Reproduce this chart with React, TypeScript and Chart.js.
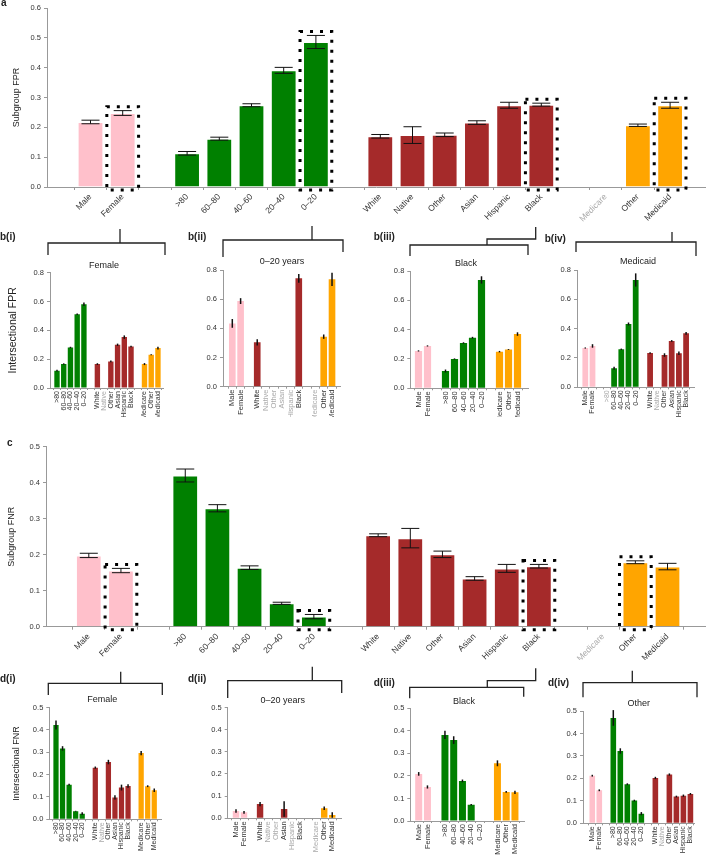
import React, { useEffect, useRef } from 'react';
import { Chart, registerables } from 'chart.js';

Chart.register(...registerables);

// ---------- categories ----------
const SEX = ['Male', 'Female'];
const AGE = ['>80', '60–80', '40–60', '20–40', '0–20'];
const RACE = ['White', 'Native', 'Other', 'Asian', 'Hispanic', 'Black'];
const INSURANCE = ['Medicare', 'Other', 'Medicaid'];

// ---------- panel a: subgroup FPR (sex, age, race, insurance) ----------
const A_FPR = [0.218, 0.248, 0.113, 0.162, 0.274, 0.391, 0.486, 0.17, 0.174, 0.175, 0.216, 0.274, 0.276, null, 0.207, 0.274];
const A_FPR_ERR = [0.006, 0.008, 0.006, 0.005, 0.005, 0.01, 0.022, 0.006, 0.028, 0.006, 0.006, 0.01, 0.005, null, 0.004, 0.01];

// ---------- panel b(i): Female (age, race, insurance) ----------
const B1_FPR = [0.12, 0.166, 0.281, 0.512, 0.581, 0.166, null, 0.184, 0.3, 0.353, 0.288, 0.166, 0.231, 0.277];
const B1_ERR = [0.006, 0.005, 0.005, 0.005, 0.012, 0.006, null, 0.006, 0.008, 0.012, 0.005, 0.007, 0.004, 0.01];
// ---------- panel b(ii): 0–20 years (sex, race, insurance) ----------
const B2_FPR = [0.434, 0.587, 0.304, null, null, null, null, 0.743, null, 0.343, 0.736];
const B2_ERR = [0.03, 0.02, 0.022, null, null, null, null, 0.03, null, 0.015, 0.045];
// ---------- panel b(iii): Black (sex, age, insurance) ----------
const B3_FPR = [0.255, 0.289, 0.118, 0.2, 0.309, 0.345, 0.739, 0.25, 0.265, 0.37];
const B3_ERR = [0.004, 0.004, 0.01, 0.004, 0.005, 0.006, 0.025, 0.005, 0.003, 0.012];
// ---------- panel b(iv): Medicaid (sex, age, race) ----------
const B4_FPR = [0.268, 0.282, null, 0.13, 0.259, 0.432, 0.732, 0.234, null, 0.22, 0.316, 0.232, 0.368];
const B4_ERR = [0.004, 0.012, null, 0.01, 0.005, 0.01, 0.045, 0.005, null, 0.012, 0.006, 0.012, 0.01];

// ---------- panel c: subgroup FNR ----------
const C_FNR = [0.198, 0.156, 0.42, 0.329, 0.164, 0.065, 0.028, 0.254, 0.246, 0.201, 0.134, 0.162, 0.168, null, 0.179, 0.167];
const C_FNR_ERR = [0.006, 0.006, 0.018, 0.01, 0.005, 0.003, 0.006, 0.004, 0.027, 0.009, 0.005, 0.011, 0.005, null, 0.004, 0.009];

// ---------- panel d(i): Female ----------
const D1_FNR = [0.422, 0.317, 0.155, 0.036, 0.025, 0.231, null, 0.256, 0.098, 0.142, 0.149, 0.296, 0.148, 0.13];
const D1_ERR = [0.02, 0.01, 0.004, 0.002, 0.006, 0.005, null, 0.01, 0.01, 0.013, 0.008, 0.01, 0.004, 0.008];
// ---------- panel d(ii): 0–20 years ----------
const D2_FNR = [0.033, 0.027, 0.064, null, null, 0.042, null, 0, null, 0.045, 0.015];
const D2_ERR = [0.008, 0.006, 0.01, null, null, 0.035, null, 0, null, 0.008, 0.012];
// ---------- panel d(iii): Black ----------
const D3_FNR = [0.209, 0.151, 0.382, 0.359, 0.178, 0.072, 0, 0.256, 0.129, 0.127];
const D3_ERR = [0.008, 0.007, 0.018, 0.017, 0.006, 0.003, 0, 0.013, 0.004, 0.007];
// ---------- panel d(iv): Other insurance ----------
const D4_FNR = [0.212, 0.147, 0.469, 0.322, 0.174, 0.101, 0.043, 0.202, null, 0.217, 0.119, 0.123, 0.131];
const D4_ERR = [0.004, 0.004, 0.035, 0.012, 0.004, 0.004, 0.007, 0.005, null, 0.005, 0.004, 0.005, 0.004];

// ---------- styles ----------
const FONT = '"Liberation Sans", Arial, Helvetica, sans-serif';
const GROUP_CATS: Record<string, string[]> = { sex: SEX, age: AGE, race: RACE, insurance: INSURANCE };
const GROUP_COLORS: Record<string, string> = { sex: '#FFC0CB', age: '#008000', race: '#A52A2A', insurance: '#FFA500' };
const AXIS = '#999999';
const TEXT = '#333333';
const MISSING = '#aaaaaa';

interface PanelSpec {
  left: number; top: number; width: number; height: number;
  axisLeft: number; axisRight: number; axisTop: number; axisBottom: number;
  xFirst: number; xStep: number;
  groups: string[]; values: (number | null)[]; errors: (number | null)[];
  yMax: number; yStep: number;
  catFont: number; rotation: number;
  caps: boolean; errWidth: number; edge: number;
  highlight?: number[];
  yTitle?: string; yTitleSize?: number; yTitleX?: number;
}

function buildPanel(groups: string[], values: (number | null)[], errors: (number | null)[]) {
  const labels: string[] = [];
  const missing: boolean[] = [];
  const points: any[] = [];
  const colors: string[] = [];
  let slot = 0;
  let k = 0;
  groups.forEach((g, gi) => {
    if (gi > 0) { labels.push(''); missing.push(false); slot++; }
    GROUP_CATS[g].forEach((cat) => {
      labels.push(cat);
      const v = values[k];
      const e = errors[k];
      missing.push(v == null);
      if (v != null) {
        points.push({ x: slot, y: v, e: e || 0, k });
        colors.push(GROUP_COLORS[g]);
      }
      slot++; k++;
    });
  });
  return { labels, missing, points, colors };
}

const PANELS: PanelSpec[] = [
  { left: 0, top: 0, width: 706, height: 222, axisLeft: 47, axisRight: 705, axisTop: 8, axisBottom: 187,
    xFirst: 90.5, xStep: 32.2, groups: ['sex', 'age', 'race', 'insurance'], values: A_FPR, errors: A_FPR_ERR,
    yMax: 0.6, yStep: 0.1, catFont: 8.5, rotation: 45, caps: true, errWidth: 1, edge: 1, highlight: [1, 6, 12, 15],
    yTitle: 'Subgroup FPR', yTitleSize: 9, yTitleX: 16.5 },
  { left: 0, top: 262, width: 168, height: 155, axisLeft: 50, axisRight: 163, axisTop: 272.7, axisBottom: 388,
    xFirst: 57, xStep: 6.73, groups: ['age', 'race', 'insurance'], values: B1_FPR, errors: B1_ERR,
    yMax: 0.8, yStep: 0.2, catFont: 7, rotation: 90, caps: false, errWidth: 1.5, edge: 0,
    yTitle: 'Intersectional FPR', yTitleSize: 10.5, yTitleX: 13 },
  { left: 180, top: 262, width: 165, height: 155, axisLeft: 223, axisRight: 340, axisTop: 270, axisBottom: 386.7,
    xFirst: 232.3, xStep: 8.31, groups: ['sex', 'race', 'insurance'], values: B2_FPR, errors: B2_ERR,
    yMax: 0.8, yStep: 0.2, catFont: 7.5, rotation: 90, caps: false, errWidth: 1.5, edge: 0 },
  { left: 370, top: 262, width: 165, height: 155, axisLeft: 410.3, axisRight: 528, axisTop: 271, axisBottom: 388.3,
    xFirst: 418.5, xStep: 9.0, groups: ['sex', 'age', 'insurance'], values: B3_FPR, errors: B3_ERR,
    yMax: 0.8, yStep: 0.2, catFont: 7.5, rotation: 90, caps: false, errWidth: 1.5, edge: 0 },
  { left: 540, top: 262, width: 160, height: 155, axisLeft: 577, axisRight: 694.7, axisTop: 270, axisBottom: 387.3,
    xFirst: 585.3, xStep: 7.2, groups: ['sex', 'age', 'race'], values: B4_FPR, errors: B4_ERR,
    yMax: 0.8, yStep: 0.2, catFont: 7, rotation: 90, caps: false, errWidth: 1.5, edge: 0 },
  { left: 0, top: 420, width: 706, height: 240, axisLeft: 46, axisRight: 705, axisTop: 446.7, axisBottom: 626.7,
    xFirst: 88.8, xStep: 32.15, groups: ['sex', 'age', 'race', 'insurance'], values: C_FNR, errors: C_FNR_ERR,
    yMax: 0.5, yStep: 0.1, catFont: 8.5, rotation: 45, caps: true, errWidth: 1, edge: 1, highlight: [1, 6, 12, 14],
    yTitle: 'Subgroup FNR', yTitleSize: 9, yTitleX: 11.7 },
  { left: 0, top: 700, width: 168, height: 160, axisLeft: 49.3, axisRight: 161.7, axisTop: 706.7, axisBottom: 819.3,
    xFirst: 56, xStep: 6.55, groups: ['age', 'race', 'insurance'], values: D1_FNR, errors: D1_ERR,
    yMax: 0.5, yStep: 0.1, catFont: 7, rotation: 90, caps: false, errWidth: 1.5, edge: 0,
    yTitle: 'Intersectional FNR', yTitleSize: 9, yTitleX: 17 },
  { left: 185, top: 700, width: 160, height: 160, axisLeft: 227.7, axisRight: 341.7, axisTop: 706.7, axisBottom: 818.3,
    xFirst: 236, xStep: 8.02, groups: ['sex', 'race', 'insurance'], values: D2_FNR, errors: D2_ERR,
    yMax: 0.5, yStep: 0.1, catFont: 7.5, rotation: 90, caps: false, errWidth: 1.5, edge: 0 },
  { left: 370, top: 700, width: 160, height: 160, axisLeft: 410.3, axisRight: 524, axisTop: 708.3, axisBottom: 821,
    xFirst: 418.7, xStep: 8.75, groups: ['sex', 'age', 'insurance'], values: D3_FNR, errors: D3_ERR,
    yMax: 0.5, yStep: 0.1, catFont: 7.5, rotation: 90, caps: false, errWidth: 1.5, edge: 0 },
  { left: 545, top: 700, width: 155, height: 160, axisLeft: 583, axisRight: 694.7, axisTop: 711, axisBottom: 823.3,
    xFirst: 592.3, xStep: 7.03, groups: ['sex', 'age', 'race'], values: D4_FNR, errors: D4_ERR,
    yMax: 0.5, yStep: 0.1, catFont: 7, rotation: 90, caps: false, errWidth: 1.5, edge: 0 },
];

// bracket paths (connect parent bar to the intersectional panel)
const BRACKETS: number[][][] = [
  [[120, 229], [120, 243]], [[48, 255], [48, 243], [165, 243], [165, 255]],
  [[312, 226], [312, 240]], [[223, 257], [223, 240], [343, 240], [343, 252]],
  [[535.7, 227], [535.7, 239], [487, 239], [487, 245]], [[410, 256], [410, 245], [528, 245], [528, 255]],
  [[672, 232], [672, 242]], [[576, 252], [576, 242], [696, 242], [696, 256]],
  [[120.7, 671.7], [120.7, 683.3]], [[48.3, 695], [48.3, 683.3], [162.3, 683.3], [162.3, 695]],
  [[312.3, 666.7], [312.3, 680.7]], [[227.7, 698], [227.7, 680.7], [341.7, 680.7], [341.7, 693]],
  [[535.7, 668.3], [535.7, 680.7], [487.3, 680.7], [487.3, 687.3]], [[409.7, 698.3], [409.7, 687.3], [523.7, 687.3], [523.7, 696.7]],
  [[632.3, 670.7], [632.3, 682.7]], [[583, 697.3], [583, 682.7], [697, 682.7], [697, 697.3]],
];

const TEXTS = [
  { t: 'a', x: 1, y: 3, size: 10, bold: true, center: false },
  { t: 'b(i)', x: 0, y: 237, size: 10, bold: true, center: false },
  { t: 'b(ii)', x: 188, y: 237, size: 10, bold: true, center: false },
  { t: 'b(iii)', x: 373.7, y: 237, size: 10, bold: true, center: false },
  { t: 'b(iv)', x: 544.7, y: 239, size: 10, bold: true, center: false },
  { t: 'c', x: 7, y: 442.7, size: 10, bold: true, center: false },
  { t: 'd(i)', x: 0, y: 679, size: 10, bold: true, center: false },
  { t: 'd(ii)', x: 188, y: 679, size: 10, bold: true, center: false },
  { t: 'd(iii)', x: 373.7, y: 682.7, size: 10, bold: true, center: false },
  { t: 'd(iv)', x: 548, y: 683.3, size: 10, bold: true, center: false },
  { t: 'Female', x: 104, y: 265, size: 9, bold: false, center: true },
  { t: '0–20 years', x: 282, y: 261, size: 9, bold: false, center: true },
  { t: 'Black', x: 466, y: 262.7, size: 9, bold: false, center: true },
  { t: 'Medicaid', x: 638, y: 261, size: 9, bold: false, center: true },
  { t: 'Female', x: 102.3, y: 699.3, size: 9, bold: false, center: true },
  { t: '0–20 years', x: 282.7, y: 700, size: 9, bold: false, center: true },
  { t: 'Black', x: 464, y: 700.7, size: 9, bold: false, center: true },
  { t: 'Other', x: 638.7, y: 702.7, size: 9, bold: false, center: true },
];

function BarPanel({ spec }: { spec: PanelSpec }) {
  const ref = useRef<HTMLCanvasElement | null>(null);
  useEffect(() => {
    const canvas = ref.current;
    if (!canvas) return;
    const { labels, missing, points, colors } = buildPanel(spec.groups, spec.values, spec.errors);
    const yWidth = spec.axisLeft - spec.left;
    const padTop = spec.axisTop - spec.top;
    const padRight = spec.left + spec.width - spec.axisRight;
    const xHeight = spec.top + spec.height - spec.axisBottom;
    const xMin = (spec.axisLeft - spec.xFirst) / spec.xStep;
    const xMax = (spec.axisRight - spec.xFirst) / spec.xStep;
    const titleSize = spec.yTitleSize || 9;
    const titlePad = spec.yTitleX != null ? spec.yTitleX - spec.left - (titleSize * 1.2) / 2 : 0;
    const highlight = spec.highlight || [];

    const extras = {
      id: 'extras',
      afterDatasetsDraw(chart: any) {
        const meta = chart.getDatasetMeta(0);
        const ys = chart.scales.y;
        const ctx = chart.ctx;
        ctx.save();
        ctx.strokeStyle = '#111';
        ctx.lineWidth = spec.errWidth;
        meta.data.forEach((el: any, i: number) => {
          const p = points[i];
          if (!p || !p.e) return;
          const yTop = ys.getPixelForValue(p.y + p.e);
          const yBot = ys.getPixelForValue(Math.max(0, p.y - p.e));
          ctx.beginPath();
          ctx.moveTo(el.x, yTop);
          ctx.lineTo(el.x, yBot);
          if (spec.caps) {
            const c = el.width * 0.35;
            ctx.moveTo(el.x - c, yTop); ctx.lineTo(el.x + c, yTop);
            ctx.moveTo(el.x - c, yBot); ctx.lineTo(el.x + c, yBot);
          }
          ctx.stroke();
        });
        ctx.setLineDash([3, 7]);
        ctx.lineWidth = 3;
        ctx.strokeStyle = '#000';
        highlight.forEach((k) => {
          const i = points.findIndex((p) => p.k === k);
          if (i < 0) return;
          const el = meta.data[i];
          const p = points[i];
          const x0 = el.x - el.width / 2 - 3;
          const x1 = el.x + el.width / 2 + 3;
          const y0 = ys.getPixelForValue(p.y + p.e) - 4;
          const y1 = ys.bottom + 3;
          ctx.strokeRect(x0, y0, x1 - x0, y1 - y0);
        });
        ctx.restore();
      },
    };

    const chart = new Chart(canvas, {
      type: 'bar',
      data: {
        datasets: [{
          data: points,
          backgroundColor: colors,
          borderColor: 'rgba(255,255,255,0.45)',
          borderWidth: spec.edge,
          barPercentage: 1,
          categoryPercentage: 0.8,
        }],
      },
      options: {
        responsive: false,
        maintainAspectRatio: false,
        animation: false,
        events: [],
        layout: { padding: { left: 0, top: padTop, right: padRight, bottom: 0 } },
        plugins: { legend: { display: false }, tooltip: { enabled: false }, title: { display: false } },
        scales: {
          x: {
            type: 'linear',
            min: xMin,
            max: xMax,
            offset: false,
            afterBuildTicks: (s: any) => { s.ticks = labels.map((_, i) => ({ value: i })); },
            afterFit: (s: any) => { s.height = xHeight; },
            ticks: {
              autoSkip: false,
              minRotation: spec.rotation,
              maxRotation: spec.rotation,
              padding: spec.rotation === 90 ? 1 : 2,
              font: { size: spec.catFont, family: FONT },
              color: (c: any) => (missing[c.index] ? MISSING : TEXT),
              callback: (_v: any, i: number) => labels[i],
            },
            grid: { drawOnChartArea: false, drawTicks: true, tickLength: spec.rotation === 90 ? 2 : 3, color: AXIS },
            border: { display: true, color: AXIS },
          },
          y: {
            min: 0,
            max: spec.yMax,
            afterFit: (s: any) => { s.width = yWidth; },
            ticks: {
              stepSize: spec.yStep,
              padding: 3,
              font: { size: 7.5, family: FONT },
              color: TEXT,
              callback: (v: any) => Number(v).toFixed(1),
            },
            grid: { drawOnChartArea: false, drawTicks: true, tickLength: 3, color: AXIS },
            border: { display: true, color: AXIS },
            title: spec.yTitle
              ? { display: true, text: spec.yTitle, color: '#222', font: { size: titleSize, family: FONT }, padding: { top: titlePad, bottom: 0 } }
              : { display: false },
          },
        },
      } as any,
      plugins: [extras],
    });
    return () => chart.destroy();
  }, [spec]);

  return (
    <canvas
      ref={ref}
      width={spec.width}
      height={spec.height}
      style={{ position: 'absolute', left: spec.left, top: spec.top, width: spec.width, height: spec.height, display: 'block' }}
    />
  );
}

export default function App() {
  return (
    <div style={{ position: 'absolute', left: 0, top: 0, width: 706, height: 860, overflow: 'hidden', background: '#fff', fontFamily: FONT }}>
      {PANELS.map((p, i) => <BarPanel key={i} spec={p} />)}
      <svg width={706} height={860} style={{ position: 'absolute', left: 0, top: 0, pointerEvents: 'none' }}>
        {BRACKETS.map((pts, i) => (
          <polyline key={i} points={pts.map((q) => q.join(',')).join(' ')} fill="none" stroke="#222" strokeWidth={1.3} />
        ))}
      </svg>
      {TEXTS.map((t, i) => (
        <div
          key={i}
          style={{
            position: 'absolute',
            left: t.x,
            top: t.y,
            transform: t.center ? 'translate(-50%, -50%)' : 'translate(0, -50%)',
            fontSize: t.size,
            fontWeight: t.bold ? 700 : 400,
            color: '#222',
            whiteSpace: 'nowrap',
            lineHeight: 1,
            fontFamily: FONT,
          }}
        >
          {t.t}
        </div>
      ))}
    </div>
  );
}
